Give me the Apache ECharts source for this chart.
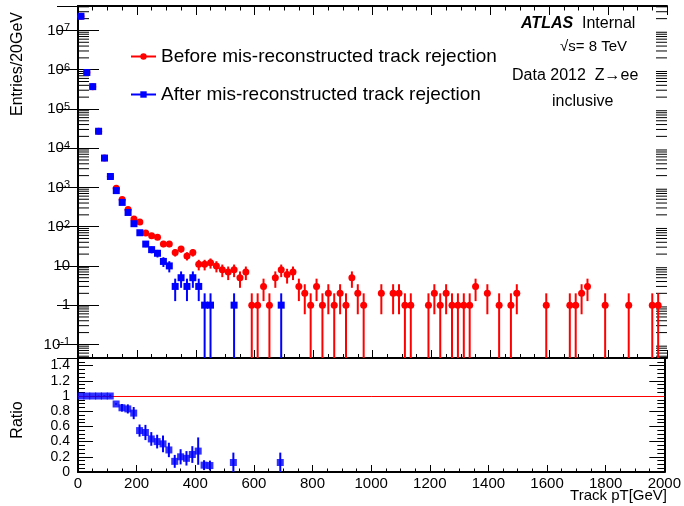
<!DOCTYPE html>
<html>
<head>
<meta charset="utf-8">
<script src="https://cdn.jsdelivr.net/npm/echarts@6/dist/echarts.min.js"></script>
<style>
    html, body { margin: 0; padding: 0; background: #fff; }
    #main { width: 684px; height: 506px; }
</style>
</head>
<body>
<div id="main"></div>
<script>
// bin centres (GeV) and entries, before rejection
var beforePt = [10, 30, 50, 70, 90, 110, 130, 150, 170, 190, 210, 230, 250, 270, 290, 310,
    330, 350, 370, 390, 410, 430, 450, 470, 490, 510, 530, 550, 570,
    590, 610, 630, 650, 670, 690, 710, 730, 750, 770,
    790, 810, 830, 850, 870, 890, 910, 930, 950, 970,
    1030, 1070, 1090, 1110, 1130,
    1190, 1210, 1230, 1250, 1270, 1290, 1310, 1330, 1350,
    1390, 1430, 1470, 1490,
    1590, 1670, 1690, 1710, 1730, 1790, 1870, 1950, 1970];
var beforeN = [2.3e7, 8.5e5, 3.7e5, 2.7e4, 5600, 1900, 950, 495, 275, 157, 131, 69, 59, 54, 36, 36,
    22, 27, 18, 22, 11, 11, 12, 10, 8, 7, 8, 5, 7,
    1, 1, 3, 1, 5, 8, 6, 7, 3, 2,
    1, 3, 1, 2, 1, 2, 1, 5, 2, 1,
    2, 2, 2, 1, 1,
    1, 2, 1, 2, 1, 1, 1, 1, 3,
    2, 1, 1, 2,
    1, 1, 1, 2, 3, 1, 1, 1, 1];

// after rejection
var afterPt = [10, 30, 50, 70, 90, 110, 130, 150, 170, 190, 210, 230, 250, 270, 290, 310,
    330, 350, 370, 390, 410, 430, 450, 530, 690];
var afterN = [2.3e7, 8.5e5, 3.7e5, 2.7e4, 5600, 1900, 830, 415, 230, 119, 70, 36, 26, 21, 13, 10,
    3, 5, 3, 5, 3, 1, 1, 1, 1];

// ratio after/before
var ratioVal = [1, 1, 1, 1, 1, 1, 0.895, 0.845, 0.83, 0.775, 0.545, 0.52, 0.435, 0.40, 0.37, 0.29,
    0.14, 0.20, 0.18, 0.23, 0.275, 0.09, 0.085, 0.125, 0.125];
var ratioErr = [0.001, 0.002, 0.002, 0.006, 0.01, 0.02, 0.01, 0.05, 0.06, 0.08, 0.08, 0.10, 0.09, 0.09, 0.11, 0.095,
    0.085, 0.10, 0.095, 0.11, 0.18, 0.065, 0.065, 0.13, 0.13];

var LOG_MIN = 0.045, LOG_MAX = 4.2e7;
var FONT = 'Liberation Sans, Arial, Helvetica, sans-serif';
var nameBefore = 'Before mis-reconstructed track rejection';
var nameAfter = 'After mis-reconstructed track rejection';

// minor ticks of the log axis (2..9 x 10^n)
var logMinor = [];
for (var e = -2; e <= 7; e++) {
    for (var k = 2; k <= 9; k++) {
        var v = k * Math.pow(10, e);
        if (v > LOG_MIN && v < LOG_MAX) logMinor.push([0, v]);
    }
}

function pairs(xs, ys) {
    return xs.map(function (x, i) { return [x, ys[i]]; });
}

function poissonBar(color) {
    return function (params, api) {
        var x = api.value(0), n = api.value(1), s = Math.sqrt(n);
        var lo = Math.max(n - s, LOG_MIN), hi = n + s;
        var p1 = api.coord([x, hi]), p2 = api.coord([x, lo]);
        return {
            type: 'line',
            shape: { x1: p1[0], y1: p1[1], x2: p2[0], y2: p2[1] },
            style: { stroke: color, lineWidth: 2 }
        };
    };
}

var xCommon = function (grid, pos, showLabel, tickLen, minorLen) {
    return {
        gridIndex: grid,
        type: 'value',
        position: pos,
        min: 0,
        max: 2000,
        interval: 200,
        axisLine: { show: true, onZero: false, lineStyle: { color: '#000', width: 2 } },
        axisTick: { show: true, inside: true, length: tickLen, lineStyle: { color: '#000', width: 1 } },
        minorTick: { show: true, splitNumber: 4, length: minorLen, lineStyle: { color: '#000', width: 1 } },
        splitLine: { show: false },
        axisLabel: {
            show: showLabel, color: '#000', fontSize: 15, fontFamily: FONT, margin: 4,
            formatter: function (v) { return String(v); }
        }
    };
};

var myChart = echarts.init(document.getElementById('main'));
var option = {
    animation: false,
    backgroundColor: '#fff',
    grid: [
        { left: 78, top: 6, width: 589, height: 352 },
        { left: 78, top: 358, width: 589, height: 114 }
    ],
    legend: {
        orient: 'vertical',
        left: 130,
        top: 47,
        padding: 0,
        itemWidth: 25,
        itemHeight: 8,
        itemGap: 19,
        selectedMode: false,
        data: [nameBefore, nameAfter],
        textStyle: { color: '#000', fontSize: 19, fontFamily: FONT },
        lineStyle: { width: 2, opacity: 1 },
        itemStyle: { opacity: 1 }
    },
    xAxis: [
        xCommon(0, 'bottom', false, 8, 4),
        xCommon(0, 'top', false, 9, 4.5),
        xCommon(1, 'bottom', true, 7, 3.5)
    ],
    yAxis: [
        {
            gridIndex: 0, type: 'log', logBase: 10, position: 'left',
            min: LOG_MIN, max: LOG_MAX,
            axisLine: { show: true, lineStyle: { color: '#000', width: 2 } },
            axisTick: { show: true, inside: true, length: 21, lineStyle: { color: '#000', width: 1 } },
            splitLine: { show: false },
            axisLabel: {
                showMinLabel: false, showMaxLabel: false, margin: 8,
                formatter: function (v) {
                    var n = Math.round(Math.log(v) / Math.LN10);
                    if (n === 0) return '{p|1}';
                    if (n === 1) return '{p|10}';
                    return '{b|10}{s|' + n + '}';
                },
                rich: {
                    p: { fontSize: 15, lineHeight: 15, color: '#000', fontFamily: FONT },
                    b: { fontSize: 15, lineHeight: 15, padding: [6, 0, 0, 0], verticalAlign: 'bottom', color: '#000', fontFamily: FONT },
                    s: { fontSize: 11, lineHeight: 11, verticalAlign: 'top', color: '#000', fontFamily: FONT }
                }
            }
        },
        {
            gridIndex: 0, type: 'log', logBase: 10, position: 'right',
            min: LOG_MIN, max: LOG_MAX,
            axisLine: { show: true, lineStyle: { color: '#000', width: 2 } },
            axisTick: { show: true, inside: true, length: 21, lineStyle: { color: '#000', width: 1 } },
            splitLine: { show: false },
            axisLabel: { show: false }
        },
        {
            gridIndex: 1, type: 'value', position: 'left',
            min: 0, max: 1.5, interval: 0.2,
            axisLine: { show: true, lineStyle: { color: '#000', width: 2 } },
            axisTick: { show: true, inside: true, length: 15, lineStyle: { color: '#000', width: 1 } },
            minorTick: { show: true, splitNumber: 4, length: 7, lineStyle: { color: '#000', width: 1 } },
            splitLine: { show: false },
            axisLabel: { showMaxLabel: false, color: '#000', fontSize: 14, fontFamily: FONT, margin: 8 }
        },
        {
            gridIndex: 1, type: 'value', position: 'right',
            min: 0, max: 1.5, interval: 0.2,
            axisLine: { show: true, lineStyle: { color: '#000', width: 2 } },
            axisTick: { show: true, inside: true, length: 15, lineStyle: { color: '#000', width: 1 } },
            minorTick: { show: true, splitNumber: 4, length: 7, lineStyle: { color: '#000', width: 1 } },
            splitLine: { show: false },
            axisLabel: { show: false }
        }
    ],
    series: [
        {
            name: 'logMinorTicks',
            type: 'custom',
            xAxisIndex: 0, yAxisIndex: 0,
            silent: true,
            data: logMinor,
            renderItem: function (params, api) {
                var pl = api.coord([0, api.value(1)]);
                var pr = api.coord([2000, api.value(1)]);
                return {
                    type: 'group',
                    children: [
                        { type: 'line', shape: { x1: pl[0], y1: pl[1], x2: pl[0] + 11, y2: pl[1] }, style: { stroke: '#000', lineWidth: 1 } },
                        { type: 'line', shape: { x1: pr[0] - 11, y1: pr[1], x2: pr[0], y2: pr[1] }, style: { stroke: '#000', lineWidth: 1 } }
                    ]
                };
            },
            z: 1
        },
        {
            name: 'beforeErr',
            type: 'custom',
            xAxisIndex: 0, yAxisIndex: 0,
            data: pairs(beforePt, beforeN),
            renderItem: poissonBar('#ff0000'),
            z: 2
        },
        {
            name: nameBefore,
            type: 'line',
            xAxisIndex: 0, yAxisIndex: 0,
            data: pairs(beforePt, beforeN),
            symbol: 'circle',
            symbolSize: 7,
            itemStyle: { color: '#ff0000' },
            lineStyle: { opacity: 0, width: 2, color: '#ff0000' },
            z: 3
        },
        {
            name: 'afterErr',
            type: 'custom',
            xAxisIndex: 0, yAxisIndex: 0,
            data: pairs(afterPt, afterN),
            renderItem: poissonBar('#0000ff'),
            z: 4
        },
        {
            name: nameAfter,
            type: 'line',
            xAxisIndex: 0, yAxisIndex: 0,
            data: pairs(afterPt, afterN),
            symbol: 'rect',
            symbolSize: 7,
            itemStyle: { color: '#0000ff' },
            lineStyle: { opacity: 0, width: 2, color: '#0000ff' },
            z: 5
        },
        {
            name: 'ratioErr',
            type: 'custom',
            xAxisIndex: 2, yAxisIndex: 2,
            data: afterPt.map(function (x, i) { return [x, ratioVal[i], ratioErr[i]]; }),
            renderItem: function (params, api) {
                var x = api.value(0), r = api.value(1), er = api.value(2);
                var p1 = api.coord([x, r + er]), p2 = api.coord([x, Math.max(r - er, 0)]);
                return {
                    type: 'line',
                    shape: { x1: p1[0], y1: p1[1], x2: p2[0], y2: p2[1] },
                    style: { stroke: '#0000ff', lineWidth: 2 }
                };
            },
            z: 4
        },
        {
            name: 'ratio',
            type: 'scatter',
            xAxisIndex: 2, yAxisIndex: 2,
            data: pairs(afterPt, ratioVal),
            symbol: 'rect',
            symbolSize: 7,
            itemStyle: { color: '#0000ff' },
            z: 5,
            markLine: {
                silent: true,
                symbol: 'none',
                label: { show: false },
                lineStyle: { color: '#ff0000', width: 1, type: 'solid' },
                data: [{ yAxis: 1 }]
            }
        }
    ],
    graphic: [
        { type: 'text', x: 18, y: 64, rotation: Math.PI / 2,
          style: { text: 'Entries/20GeV', fill: '#000', fontSize: 16, fontFamily: FONT, align: 'center', verticalAlign: 'middle' } },
        { type: 'text', x: 18, y: 420, rotation: Math.PI / 2,
          style: { text: 'Ratio', fill: '#000', fontSize: 16, fontFamily: FONT, align: 'center', verticalAlign: 'middle' } },
        { type: 'text', x: 667, y: 496,
          style: { text: 'Track pT[GeV]', fill: '#000', fontSize: 15, fontFamily: FONT, align: 'right', verticalAlign: 'middle' } },
        { type: 'text', x: 521, y: 24,
          style: { text: 'ATLAS', fill: '#000', fontSize: 16, fontWeight: 'bold', fontStyle: 'italic', fontFamily: FONT, align: 'left', verticalAlign: 'middle' } },
        { type: 'text', x: 582, y: 24,
          style: { text: 'Internal', fill: '#000', fontSize: 16, fontFamily: FONT, align: 'left', verticalAlign: 'middle' } },
        { type: 'text', x: 560, y: 47,
          style: { text: '\u221As= 8 TeV', fill: '#000', fontSize: 15, fontFamily: FONT, align: 'left', verticalAlign: 'middle' } },
        { type: 'text', x: 512, y: 76,
          style: { text: 'Data 2012  Z\u2192ee', fill: '#000', fontSize: 16, fontFamily: FONT, align: 'left', verticalAlign: 'middle' } },
        { type: 'text', x: 552, y: 102,
          style: { text: 'inclusive', fill: '#000', fontSize: 16, fontFamily: FONT, align: 'left', verticalAlign: 'middle' } }
    ]
};
myChart.setOption(option);
</script>
</body>
</html>
